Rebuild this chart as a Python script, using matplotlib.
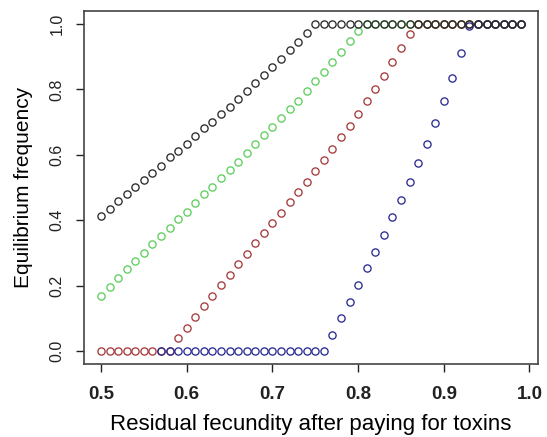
import matplotlib
matplotlib.use("Agg")
import matplotlib.pyplot as plt
import numpy as np

# x grid: residual fecundity 0.50 .. 0.99
fecundity = [round(0.50 + 0.01 * i, 2) for i in range(50)]

# black series (0.50 .. 0.99)
freq_black = [0.413, 0.435, 0.459, 0.480, 0.501, 0.524, 0.545, 0.567, 0.592, 0.612,
              0.634, 0.657, 0.681, 0.701, 0.724, 0.747, 0.771, 0.794, 0.820, 0.844,
              0.867, 0.893, 0.920, 0.944, 0.973] + [1.0] * 25

# green series (0.50 .. 0.99)
freq_green = [0.169, 0.197, 0.223, 0.250, 0.276, 0.301, 0.327, 0.353, 0.377, 0.404,
              0.426, 0.453, 0.479, 0.502, 0.528, 0.554, 0.579, 0.606, 0.632, 0.660,
              0.686, 0.712, 0.739, 0.765, 0.795, 0.825, 0.854, 0.884, 0.914, 0.947,
              0.980] + [1.0] * 19

# red series (0.50 .. 0.99)
freq_red = [0.0] * 9 + [0.039, 0.070, 0.104, 0.137, 0.169, 0.203, 0.233, 0.266, 0.297,
                        0.329, 0.360, 0.392, 0.423, 0.455, 0.485, 0.518, 0.551, 0.584,
                        0.619, 0.655, 0.688, 0.724, 0.765, 0.801, 0.840, 0.883, 0.927,
                        0.970] + [1.0] * 13

# blue series (0.57 .. 0.99)
fecundity_blue = fecundity[7:]
freq_blue = [0.0] * 20 + [0.048, 0.101, 0.150, 0.203, 0.253, 0.303, 0.356, 0.409, 0.462,
                          0.518, 0.575, 0.634, 0.698, 0.765, 0.834, 0.910, 0.994] + [1.0] * 6

series = [
    (fecundity, freq_green, "#5ccf5c"),
    (fecundity, freq_red, "#a63a3a"),
    (fecundity_blue, freq_blue, "#2b2b94"),
    (fecundity, freq_black, "#2a2a2a"),
]

plt.rcParams["font.family"] = ["Liberation Sans", "DejaVu Sans"]

fig = plt.figure(figsize=(5.47, 4.37), dpi=100)
ax = fig.add_axes([0.154, 0.167, 0.829, 0.808])

for x, y, col in series:
    ax.plot(x, y, linestyle="none", marker="o", markersize=5.2,
            markerfacecolor="none", markeredgecolor=col, markeredgewidth=0.95)

ax.set_xlim(0.4804, 1.0096)
ax.set_ylim(-0.04, 1.04)
ax.set_xticks(np.arange(0.5, 1.01, 0.1))
ax.set_xticklabels(["0.5", "0.6", "0.7", "0.8", "0.9", "1.0"], fontweight="bold", fontsize=13.5)
ax.set_yticks(np.arange(0, 1.01, 0.2))
ax.set_yticklabels(["0.0", "0.2", "0.4", "0.6", "0.8", "1.0"], fontsize=11.5,
                   rotation=90, va="center")
ax.tick_params(direction="out", length=6, width=1, colors="#222222")
ax.tick_params(axis="x", pad=10)
ax.tick_params(axis="y", pad=8)
for sp in ax.spines.values():
    sp.set_color("#444444")
    sp.set_linewidth(1.2)

ax.set_xlabel("Residual fecundity after paying for toxins", fontsize=16)
ax.set_ylabel("Equilibrium frequency", fontsize=15)
ax.xaxis.set_label_coords(0.5, -0.142)
ax.yaxis.set_label_coords(-0.112, 0.5)

fig.savefig("out.png", dpi=100)
